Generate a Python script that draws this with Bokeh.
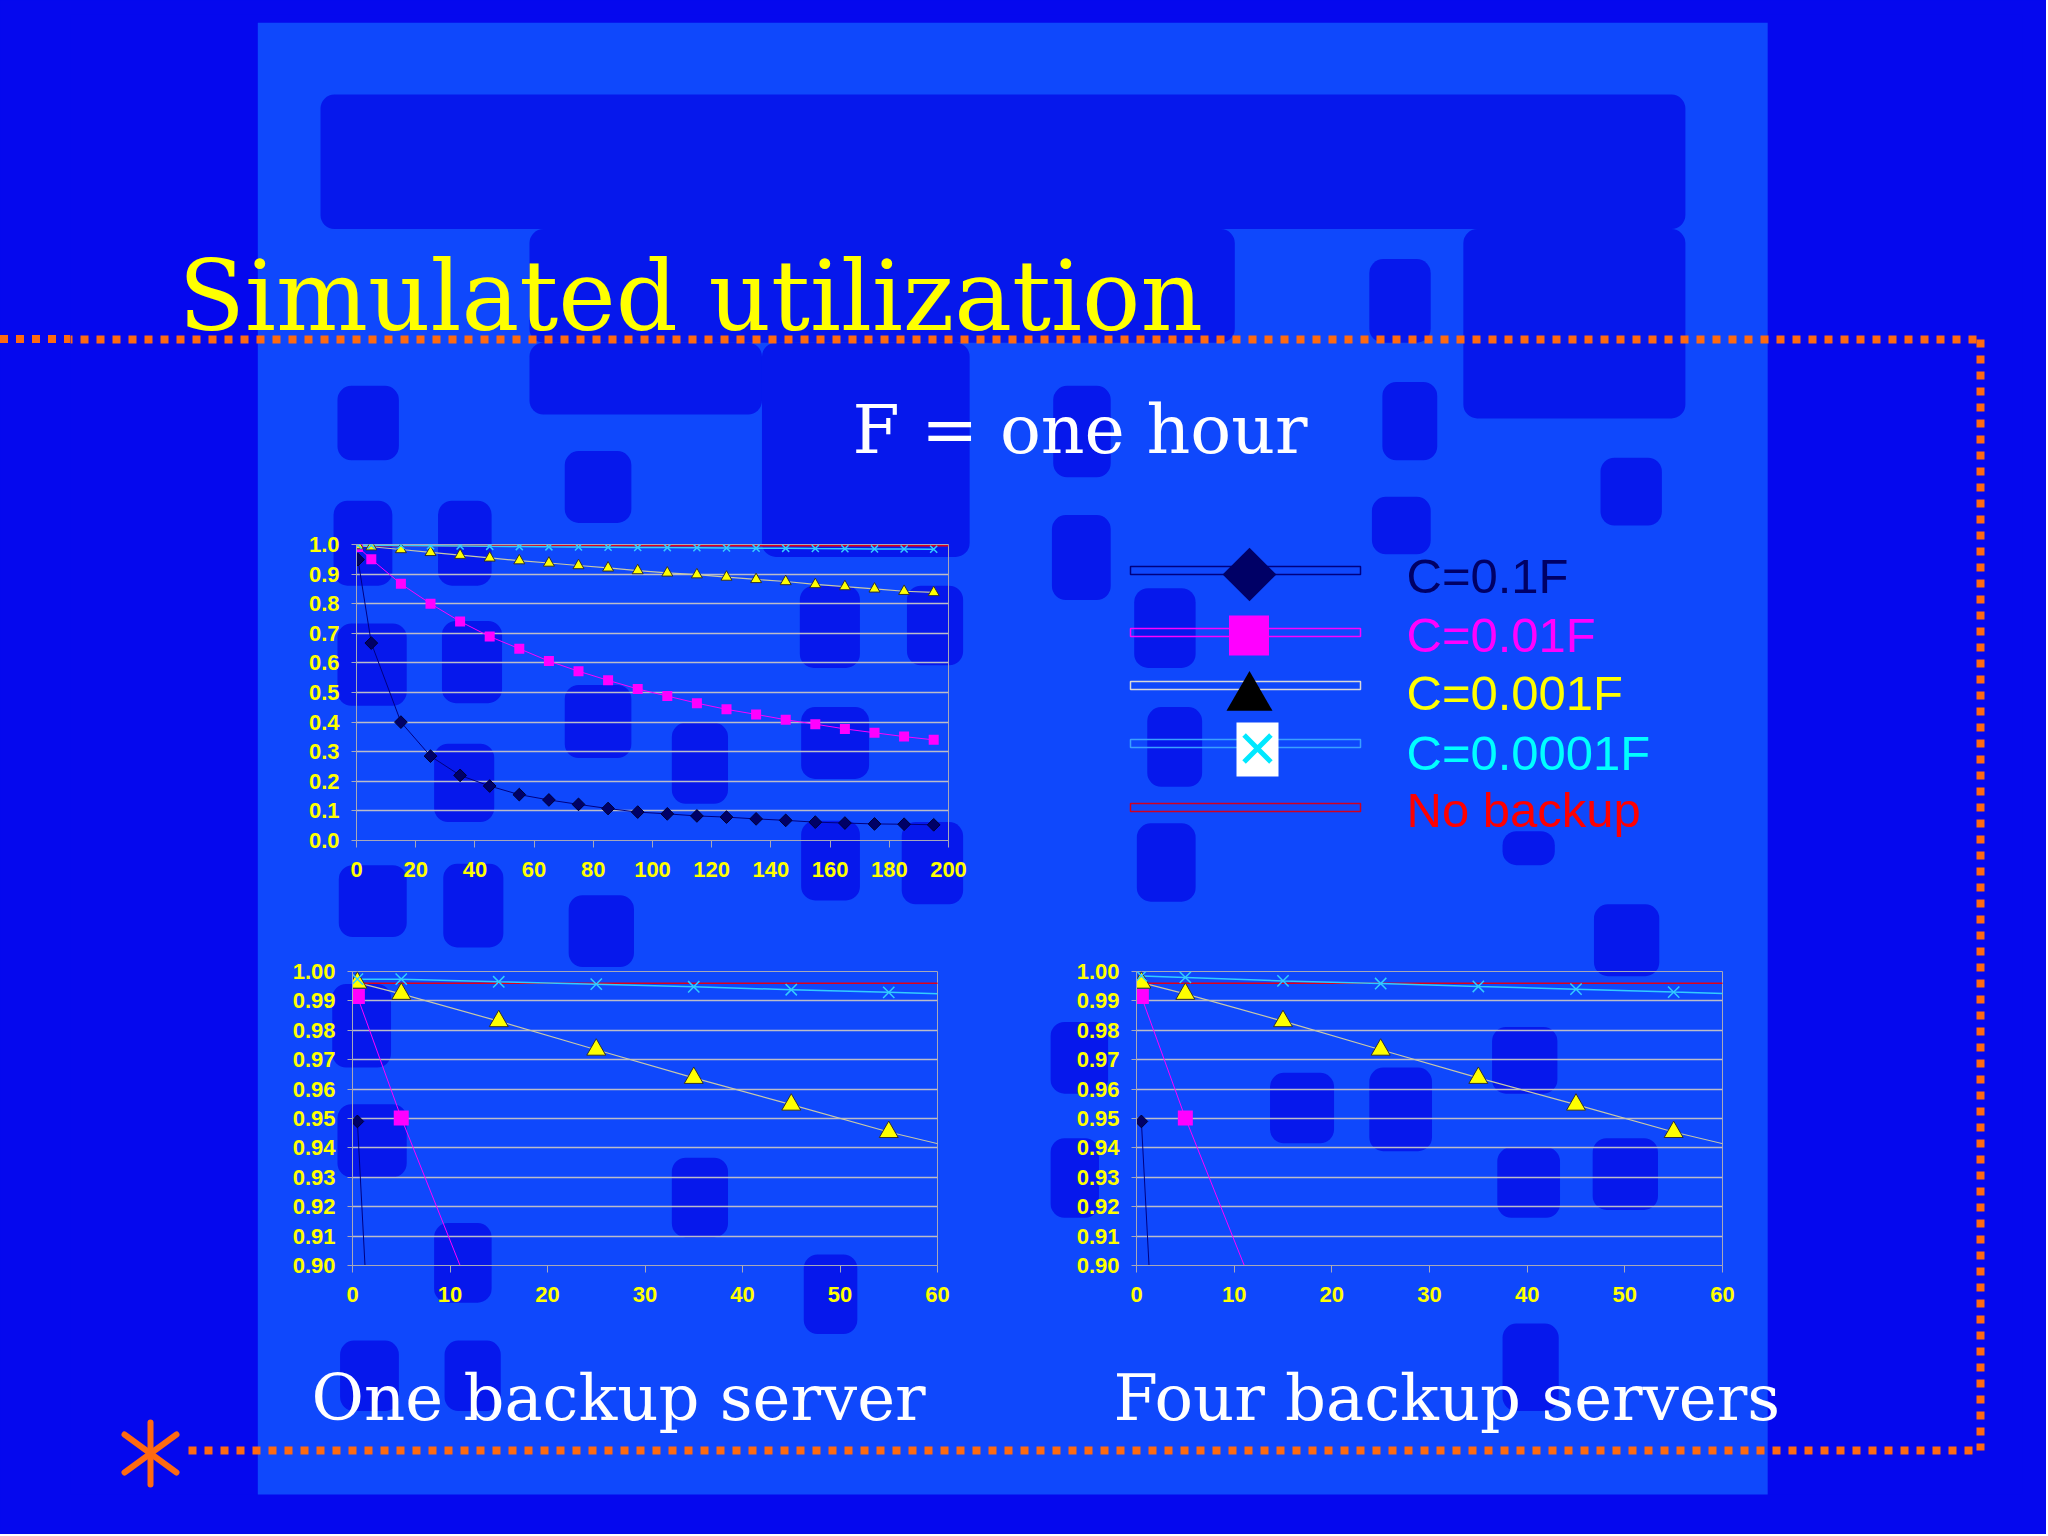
import numpy as np
from bokeh.plotting import figure
from bokeh.models import Range1d, FixedTicker, NumeralTickFormatter, GridBox, Div
from bokeh.embed import file_html
from bokeh.resources import INLINE
from bokeh.core.properties import value

# ---------------- data ----------------
x_pts = [0.5, 5, 15, 25, 35, 45, 55, 65, 75, 85, 95, 105, 115, 125, 135, 145, 155, 165, 175, 185, 195]
c_01 = [0.949, 0.667, 0.400, 0.285, 0.220, 0.184, 0.155, 0.137, 0.122, 0.108, 0.096,
        0.090, 0.083, 0.079, 0.073, 0.068, 0.062, 0.059, 0.056, 0.055, 0.053]
c_001 = [0.9915, 0.9502, 0.867, 0.800, 0.740, 0.689, 0.648, 0.606, 0.572, 0.541, 0.512,
         0.488, 0.464, 0.443, 0.426, 0.408, 0.393, 0.377, 0.364, 0.351, 0.340]
c_0001 = [0.9962, 0.9924, 0.9831, 0.9734, 0.9638, 0.9547, 0.9454, 0.9375, 0.929, 0.921, 0.912,
          0.904, 0.898, 0.890, 0.882, 0.875, 0.865, 0.858, 0.850, 0.842, 0.838]
c_00001 = [0.9974, 0.9974, 0.9965, 0.9957, 0.9948, 0.9938, 0.9929, 0.9920, 0.9914, 0.9908, 0.9902,
           0.9895, 0.9889, 0.9884, 0.9877, 0.9871, 0.9864, 0.9858, 0.9852, 0.9846, 0.9840]
x_four = [0.5, 5, 15, 25, 35, 45, 55, 65]
c_00001_four = [0.9985, 0.9980, 0.9968, 0.9959, 0.9949, 0.9940, 0.9930, 0.9921]
x_nobackup = [0, 200]
no_backup = [0.996, 0.996]

legend_labels = ["C=0.1F", "C=0.01F", "C=0.001F", "C=0.0001F", "No backup"]
ticks_x_long = [0, 20, 40, 60, 80, 100, 120, 140, 160, 180, 200]
ticks_y_long = [0.0, 0.1, 0.2, 0.3, 0.4, 0.5, 0.6, 0.7, 0.8, 0.9, 1.0]
ticks_x_short = [0, 10, 20, 30, 40, 50, 60]
ticks_y_short = [0.90, 0.91, 0.92, 0.93, 0.94, 0.95, 0.96, 0.97, 0.98, 0.99, 1.00]

# ---------------- style ----------------
OUTER = "#0508ee"
LIGHT = "#0f48fc"
BLOB = "#0618ec"
ORANGE = "#ff6a10"
NAVY = "#000066"
MAGENTA = "#ff00ff"
YELLOW = "#ffff00"
CROSS = "#33ccff"
RED = "#e00018"
AX = "#a8a8b8"
GRID = "#bcbcc8"

S = 2048 / 1568.0
W, H = 2046, 1534
ML, MR, MT, MB = 70, 24, 14, 40   # identical borders for every figure (grid aligns them)

# ---------------- background slide ----------------
bg = figure(width=W, height=H, x_range=Range1d(ML, W - MR), y_range=Range1d(H - MB, MT),
            output_backend="svg", toolbar_location=None,
            min_border_left=ML, min_border_right=MR, min_border_top=MT, min_border_bottom=MB,
            x_axis_location=None, y_axis_location=None, align="start")
bg.grid.visible = False
bg.outline_line_color = None
bg.background_fill_color = OUTER
bg.border_fill_color = OUTER

light = (197, 1353, 17, 1147)
bg.quad(left=[light[0] * S], right=[light[1] * S], top=[light[2] * S], bottom=[light[3] * S],
        fill_color=LIGHT, line_color=None)

blobs = [
    (245, 1290, 72, 175), (405, 945, 175, 262), (405, 583, 262, 317), (583, 742, 262, 426),
    (1120, 1290, 175, 320), (1048, 1095, 198, 262), (258, 305, 295, 352), (432, 483, 345, 400),
    (806, 850, 295, 365), (1058, 1100, 292, 352), (1225, 1272, 350, 402), (255, 300, 383, 448),
    (335, 376, 383, 448), (805, 850, 394, 459), (1050, 1095, 380, 424), (868, 915, 450, 511),
    (878, 920, 541, 602), (870, 915, 630, 690), (1150, 1190, 636, 662), (1220, 1270, 692, 747),
    (258, 311, 477, 540), (338, 384, 475, 538), (432, 483, 524, 580), (514, 557, 553, 615),
    (612, 658, 448, 511), (694, 737, 448, 509), (613, 665, 541, 596), (690, 737, 629, 692),
    (613, 658, 628, 689), (332, 378, 569, 629), (259, 311, 662, 717), (339, 385, 661, 725),
    (435, 485, 685, 740), (254, 299, 753, 817), (258, 311, 845, 901), (332, 376, 936, 997),
    (514, 557, 886, 947), (615, 656, 960, 1021), (804, 848, 782, 837), (804, 841, 871, 932),
    (972, 1021, 821, 875), (1048, 1096, 817, 881), (1142, 1192, 786, 837), (1146, 1194, 878, 932),
    (1219, 1269, 871, 926), (260, 305, 1026, 1080), (340, 383, 1026, 1080), (1150, 1193, 1013, 1080),
]
blob_kw = dict(left=[b[0] * S for b in blobs], right=[b[1] * S for b in blobs],
               top=[b[2] * S for b in blobs], bottom=[b[3] * S for b in blobs],
               fill_color=BLOB, line_color=None)
try:
    bg.quad(border_radius=14, **blob_kw)
except Exception:
    bg.quad(**blob_kw)

# dotted frame
bg.line(x=[0, 1980], y=[339, 339], line_color=ORANGE, line_width=8, line_dash="8 8")
bg.line(x=[1980, 1980], y=[339, 1450], line_color=ORANGE, line_width=8, line_dash="8 8")
bg.line(x=[188, 1980], y=[1450, 1450], line_color=ORANGE, line_width=8, line_dash="8 8")
# asterisk
bg.segment(x0=[150, 124, 124], y0=[1422, 1434, 1472], x1=[150, 176, 176], y1=[1484, 1472, 1434],
           line_color=ORANGE, line_width=6, line_cap="round")

# texts (y anchors compensate for how the svg backend places the alphabetic baseline)
bg.text(x=[178], y=[296], text=["Simulated utilization"], text_font=value("DejaVu Serif"),
        text_font_size=value("97px"), text_color=YELLOW, text_baseline="alphabetic")
bg.text(x=[852], y=[429], text=["F = one hour"], text_font=value("DejaVu Serif"),
        text_font_size=value("68px"), text_color="white", text_baseline="alphabetic")
bg.text(x=[311, 1113], y=[1397, 1397], text=["One backup server", "Four backup servers"],
        text_font=value("DejaVu Serif"), text_font_size=value("64px"), text_color="white",
        text_baseline="alphabetic")

# legend
leg_line_colors = ["#000080", MAGENTA, "#d8d8d8", "#3aa0ff", "#d00020"]
leg_y = [570, 632, 685, 743, 807]
bg.quad(left=[1130] * 5, right=[1360] * 5, top=[y - 4 for y in leg_y], bottom=[y + 4 for y in leg_y],
        fill_color=None, line_color=leg_line_colors, line_width=1.5)
bg.scatter(x=[1249], y=[574], marker="square", angle=np.pi / 4, size=38, fill_color=NAVY, line_color=None)
bg.scatter(x=[1248.5], y=[635], marker="square", size=40, fill_color=MAGENTA, line_color=None)
bg.scatter(x=[1249], y=[697], marker="triangle", size=46, fill_color="black", line_color=None)
bg.quad(left=[1236], right=[1278], top=[722], bottom=[776], fill_color="white", line_color=None)
bg.scatter(x=[1257], y=[748], marker="x", size=38, line_color="#00e8ff", line_width=5)
leg_text_colors = [NAVY, MAGENTA, YELLOW, "#00ffff", "#ff0000"]
bg.text(x=[1406] * 5, y=[575, 634, 692, 752, 809], text=legend_labels,
        text_font=value("Liberation Sans"), text_font_size=value("49px"),
        text_color=leg_text_colors, text_baseline="alphabetic")

# the short piece of the dotted rule left of the slide frame
dots = Div(text="", width=ML, height=8, margin=(335, 0, 0, 0), align="start",
           styles={"background": "repeating-linear-gradient(90deg, %s 0px, %s 8px, transparent 8px, transparent 16px)" % (ORANGE, ORANGE)})


# ---------------- charts ----------------
def make_chart(left, top, fw, fh, xr, yr, xt, yt, yfmt, cross_x, cross_y, sz):
    p = figure(width=ML + fw + MR, height=MT + fh + MB,
               x_range=Range1d(*xr), y_range=Range1d(*yr),
               output_backend="svg", toolbar_location=None,
               min_border_left=ML, min_border_right=MR, min_border_top=MT, min_border_bottom=MB,
               align="start", margin=(top - MT, 0, 0, left - ML))
    p.background_fill_alpha = 0
    p.border_fill_alpha = 0
    p.outline_line_color = AX
    p.outline_line_width = 1
    p.xaxis.ticker = FixedTicker(ticks=xt)
    p.yaxis.ticker = FixedTicker(ticks=yt)
    p.yaxis.formatter = NumeralTickFormatter(format=yfmt)
    for ax in (p.xaxis, p.yaxis):
        ax.axis_line_color = AX
        ax.major_tick_line_color = AX
        ax.minor_tick_line_color = None
        ax.major_tick_in = 0
        ax.major_label_text_font = "Liberation Sans"
        ax.major_label_text_font_style = "bold"
        ax.major_label_text_font_size = "22px"
        ax.major_label_text_color = YELLOW
    p.xaxis.major_tick_out = 7
    p.xaxis.major_label_standoff = 14
    p.yaxis.major_tick_out = 5
    p.yaxis.major_label_standoff = 12
    p.xgrid.visible = False
    p.ygrid.ticker = FixedTicker(ticks=yt)
    p.ygrid.grid_line_color = GRID
    p.ygrid.grid_line_width = 1.5

    p.line(x_nobackup, no_backup, line_color=RED, line_width=1.5)
    p.line(x_pts, c_01, line_color="#000080", line_width=1)
    p.line(x_pts, c_001, line_color=MAGENTA, line_width=1)
    p.line(x_pts, c_0001, line_color="#c8c8a8", line_width=1.2)
    p.line(cross_x, cross_y, line_color=CROSS, line_width=1.5)
    p.scatter(x_pts, c_01, marker="square", angle=np.pi / 4, size=sz[0],
              fill_color=NAVY, line_color="#000033")
    p.scatter(x_pts, c_001, marker="square", size=sz[1], fill_color=MAGENTA, line_color=None)
    p.scatter(x_pts, c_0001, marker="triangle", size=sz[2], fill_color=YELLOW,
              line_color="#303030", line_width=1)
    p.scatter(cross_x, cross_y, marker="x", size=sz[3], line_color=CROSS, line_width=1.5)
    return p


c1 = make_chart(356, 544, 592, 296, (0, 200), (0, 1), ticks_x_long, ticks_y_long, "0.0",
                x_pts, c_00001, (9, 10, 11, 10))
c2 = make_chart(352, 971, 585, 294, (0, 60), (0.9, 1.0), ticks_x_short, ticks_y_short, "0.00",
                x_pts, c_00001, (9, 15, 19, 16))
c3 = make_chart(1136, 971, 586, 294, (0, 60), (0.9, 1.0), ticks_x_short, ticks_y_short, "0.00",
                x_four, c_00001_four, (9, 15, 19, 16))

layout = GridBox(children=[(bg, 0, 0), (dots, 0, 0), (c1, 0, 0), (c2, 0, 0), (c3, 0, 0)],
                 styles={"background-color": OUTER})

open("out.html", "w").write(file_html(layout, INLINE))
